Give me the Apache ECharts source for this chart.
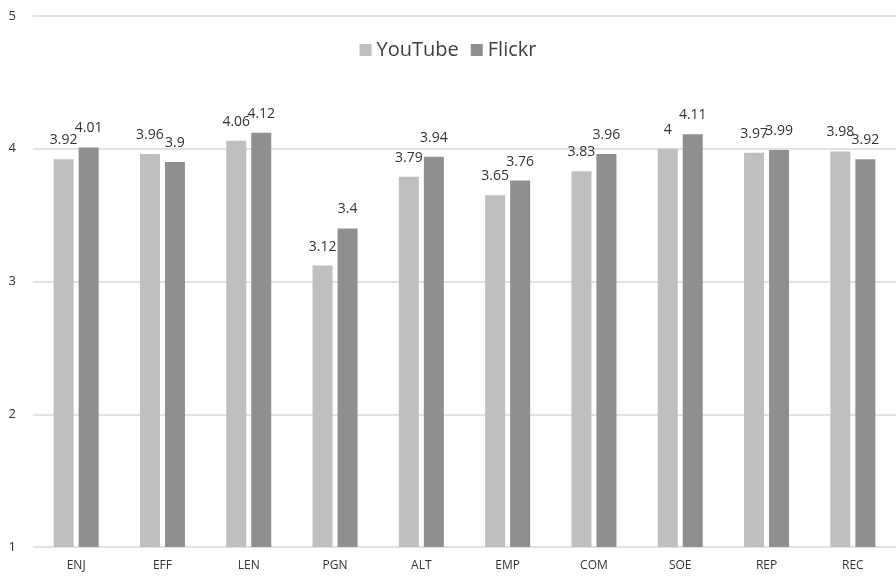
<!DOCTYPE html>
<html>
<head>
  <meta charset="UTF-8">
  <title>YouTube vs Flickr</title>
  <script src="https://cdn.jsdelivr.net/npm/echarts@6/dist/echarts.min.js"></script>
  <style>
  html, body { margin: 0; padding: 0; background: #fff; }
  #chart { width: 896px; height: 578px; }
  </style>
</head>
<body>
  <div id="chart"></div>
<script>
var categories = ['ENJ', 'EFF', 'LEN', 'PGN', 'ALT', 'EMP', 'COM', 'SOE', 'REP', 'REC'];
var youtube = [3.92, 3.96, 4.06, 3.12, 3.79, 3.65, 3.83, 4, 3.97, 3.98];
var flickr = [4.01, 3.9, 4.12, 3.4, 3.94, 3.76, 3.96, 4.11, 3.99, 3.92];

var font = '"Open Sans", sans-serif';
var chart = echarts.init(document.getElementById('chart'));

var label = {
  show: true,
  position: 'top',
  distance: 12,
  color: '#333333',
  fontSize: 14,
  fontFamily: font
};

chart.setOption({
  animation: false,
  legend: {
    data: ['YouTube', 'Flickr'],
    top: 35,
    left: 'center',
    itemWidth: 12,
    itemHeight: 12,
    itemGap: 12,
    icon: 'rect',
    textStyle: { fontSize: 20, color: '#404040', fontFamily: font }
  },
  grid: { left: 33, top: 16, width: 868, height: 531 },
  xAxis: {
    type: 'category',
    data: categories,
    axisLine: { show: false },
    axisTick: { show: false },
    axisLabel: { color: '#333333', fontSize: 12, fontFamily: font, margin: 13 }
  },
  yAxis: {
    type: 'value',
    min: 1,
    max: 5,
    interval: 1,
    axisLine: { show: false },
    axisTick: { show: false },
    axisLabel: { color: '#333333', fontSize: 13, fontFamily: font, margin: 17 },
    splitLine: { lineStyle: { color: '#d9d9d9', width: 1.5 } }
  },
  series: [{
    name: 'YouTube',
    type: 'bar',
    data: youtube,
    barWidth: 20,
    barGap: '25%',
    itemStyle: { color: '#bfbfbf' },
    label: label
  }, {
    name: 'Flickr',
    type: 'bar',
    data: flickr,
    barWidth: 20,
    itemStyle: { color: '#8f8f8f' },
    label: label
  }]
});
</script>
</body>
</html>
